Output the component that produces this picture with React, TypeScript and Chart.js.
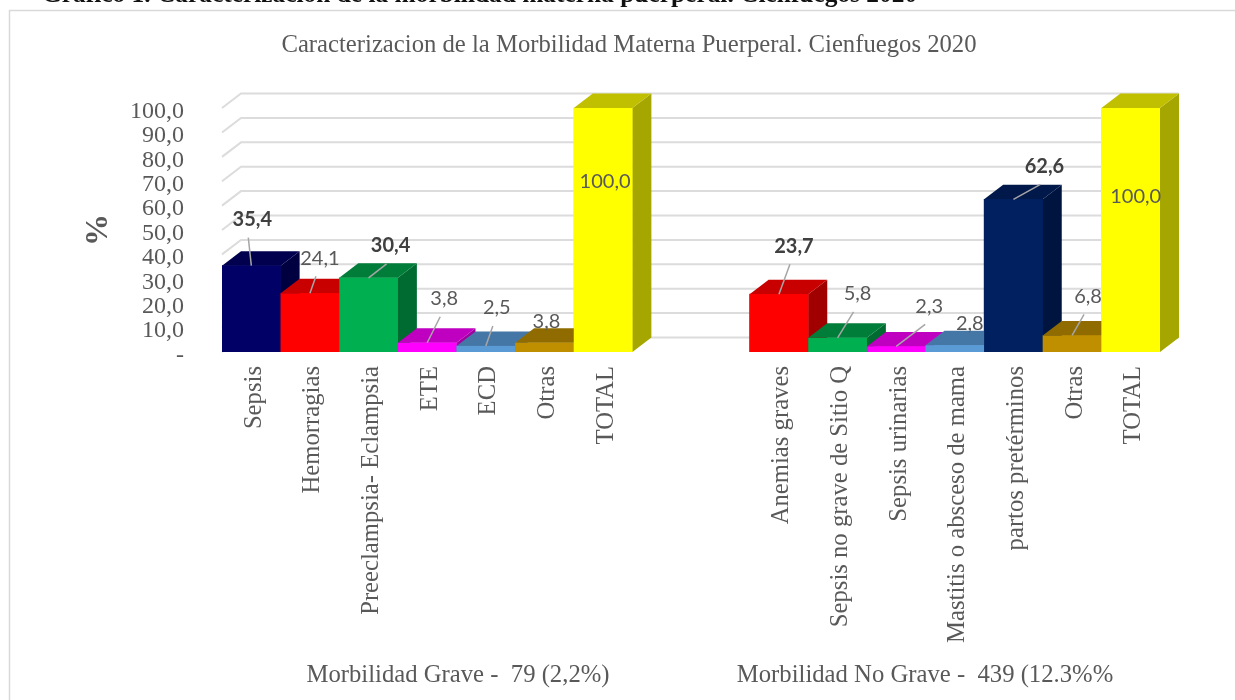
import React, { useEffect, useRef } from "react";
import { Chart, registerables } from "chart.js";

Chart.register(...registerables);

const categories = [
  "Sepsis", "Hemorragias", "Preeclampsia- Eclampsia", "ETE", "ECD", "Otras", "TOTAL",
  "", "",
  "Anemias graves", "Sepsis no grave de Sitio Q", "Sepsis urinarias", "Mastitis o absceso de mama", "partos pretérminos", "Otras", "TOTAL",
];
const values = [35.4, 24.1, 30.4, 3.8, 2.5, 3.8, 100, null, null, 23.7, 5.8, 2.3, 2.8, 62.6, 6.8, 100];
const frontColors = ["#000066", "#ff0000", "#00b050", "#ff00ff", "#5b9bd5", "#bf8f00", "#ffff00", "", "", "#ff0000", "#00b050", "#ff00ff", "#5b9bd5", "#002060", "#bf8f00", "#ffff00"];
const topColors = ["#00004f", "#c80000", "#007d39", "#c000c0", "#4577a6", "#8f6b00", "#c0c000", "", "", "#c80000", "#007d39", "#c000c0", "#4577a6", "#00184a", "#8f6b00", "#c0c000"];
const sideColors = ["#000040", "#a00000", "#006b30", "#a000a0", "#3a6590", "#7a5c00", "#a6a600", "", "", "#a00000", "#006b30", "#a000a0", "#3a6590", "#001440", "#7a5c00", "#a6a600"];
const labelOffsets: ([number, number] | null)[] = [
  [1, -46], [10, -35], [22, -32], [17, -44], [11, -38], [2, -21], [2, 74], null, null,
  [15, -48], [20, -44], [33, -40], [15, -22], [31, -33], [16, -39], [5, 89],
];
const boldLabels = [0, 2, 9, 13];
const noLeader = [5, 6, 12, 15];
const groupCaptions = [
  { text: "Morbilidad Grave -  79 (2,2%)", x: 458 },
  { text: "Morbilidad No Grave -  439 (12.3%%", x: 925 },
];
const heading = "Gráfico 1. Caracterización de la morbilidad materna puerperal. Cienfuegos 2020";
const chartTitle = "Caracterizacion de la Morbilidad Materna Puerperal. Cienfuegos 2020";

const DX = 19;
const DY = 14.5;
const SERIF = '"Liberation Serif", serif';
const SANS = 'Lato, sans-serif';

const fmt = (v: number) => v.toFixed(1).replace(".", ",");

const decor = {
  id: "decor",
  beforeDatasetsDraw(chart: any) {
    const { ctx, chartArea, scales } = chart;
    const y = scales.y;
    ctx.save();
    ctx.strokeStyle = "#d9d9d9";
    ctx.lineWidth = 1.5;
    ctx.strokeRect(9.5, 10.5, 1300, 800);
    // heading clipped by the top of the page
    ctx.fillStyle = "#111111";
    ctx.font = `bold 25.4px ${SERIF}`;
    ctx.textAlign = "left";
    ctx.textBaseline = "alphabetic";
    ctx.fillText(heading, 42, 2);
    // back wall grid and left wall
    ctx.strokeStyle = "#dcdcdc";
    ctx.lineWidth = 2;
    for (const t of y.ticks) {
      const py = y.getPixelForValue(t.value);
      ctx.beginPath();
      ctx.moveTo(chartArea.left, py);
      ctx.lineTo(chartArea.left + DX, py - DY);
      ctx.lineTo(chartArea.right + DX, py - DY);
      ctx.stroke();
    }
    ctx.fillStyle = "#595959";
    ctx.font = `24.7px ${SERIF}`;
    ctx.textAlign = "center";
    ctx.textBaseline = "middle";
    for (const c of groupCaptions) ctx.fillText(c.text, c.x, 676);
    ctx.restore();
  },
  afterDatasetsDraw(chart: any) {
    const { ctx } = chart;
    const meta = chart.getDatasetMeta(0);
    ctx.save();
    meta.data.forEach((bar: any, i: number) => {
      if (values[i] == null) return;
      const w = bar.width;
      const l = bar.x - w / 2;
      const r = bar.x + w / 2;
      const t = bar.y;
      const b = bar.base;
      ctx.fillStyle = sideColors[i];
      ctx.beginPath();
      ctx.moveTo(r, t);
      ctx.lineTo(r + DX, t - DY);
      ctx.lineTo(r + DX, b - DY);
      ctx.lineTo(r, b);
      ctx.closePath();
      ctx.fill();
      ctx.fillStyle = topColors[i];
      ctx.beginPath();
      ctx.moveTo(l, t);
      ctx.lineTo(l + DX, t - DY);
      ctx.lineTo(r + DX, t - DY);
      ctx.lineTo(r, t);
      ctx.closePath();
      ctx.fill();
      ctx.fillStyle = frontColors[i];
      ctx.fillRect(l, t, w, b - t);
    });
    meta.data.forEach((bar: any, i: number) => {
      const off = labelOffsets[i];
      const v = values[i];
      if (v == null || !off) return;
      const lx = bar.x + off[0];
      const ly = bar.y + off[1];
      if (!noLeader.includes(i)) {
        ctx.strokeStyle = "#a6a6a6";
        ctx.lineWidth = 1.5;
        ctx.beginPath();
        ctx.moveTo(lx - 4, ly + 18);
        ctx.lineTo(bar.x, bar.y);
        ctx.stroke();
      }
      const bold = boldLabels.includes(i);
      ctx.fillStyle = bold ? "#404040" : "#595959";
      ctx.font = `${bold ? "bold " : ""}20px ${SANS}`;
      ctx.textAlign = "center";
      ctx.textBaseline = "middle";
      ctx.fillText(fmt(v), lx, ly);
    });
    ctx.restore();
  },
};

export default function App() {
  const ref = useRef<HTMLCanvasElement>(null);
  useEffect(() => {
    document.body.style.margin = "0";
    document.body.style.background = "#ffffff";
    const chart = new Chart(ref.current!, {
      type: "bar",
      data: {
        labels: categories,
        datasets: [{
          data: values,
          backgroundColor: frontColors,
          barPercentage: 1,
          categoryPercentage: 1,
        }],
      },
      plugins: [decor],
      options: {
        responsive: false,
        animation: false,
        layout: { padding: { left: 98, right: 75, top: 0, bottom: 0 } },
        plugins: {
          legend: { display: false },
          tooltip: { enabled: false },
          title: {
            display: true,
            text: chartTitle,
            color: "#595959",
            font: { family: SERIF, size: 24.7, weight: "normal", lineHeight: 1.2 },
            padding: { top: 30.5, bottom: 47.9 },
          },
        },
        scales: {
          x: {
            grid: { display: false },
            border: { display: false },
            ticks: {
              autoSkip: false,
              minRotation: 90,
              maxRotation: 90,
              padding: 6,
              labelOffset: 3,
              color: "#595959",
              font: { family: SERIF, size: 24.7 },
            },
            afterFit(s: any) { s.height = 348; },
          },
          y: {
            min: 0,
            max: 100,
            grid: { display: false, drawTicks: false },
            border: { display: false },
            title: {
              display: true,
              text: "%",
              color: "#595959",
              font: { family: SERIF, size: 32, weight: "bold" },
              padding: { top: -18, bottom: 0 },
            },
            ticks: {
              autoSkip: false,
              stepSize: 10,
              padding: 38,
              labelOffset: 3.5,
              color: "#595959",
              font: { family: SERIF, size: 24 },
              callback: (v: any) => (Number(v) === 0 ? "-" : fmt(Number(v))),
            },
            afterFit(s: any) { s.width = 124; },
          },
        },
      },
    } as any);
    return () => chart.destroy();
  }, []);
  return (
    <div style={{ width: 1235, height: 700, overflow: "hidden" }}>
      <canvas ref={ref} width={1235} height={700} style={{ display: "block", filter: "blur(0.5px)" }} />
    </div>
  );
}
